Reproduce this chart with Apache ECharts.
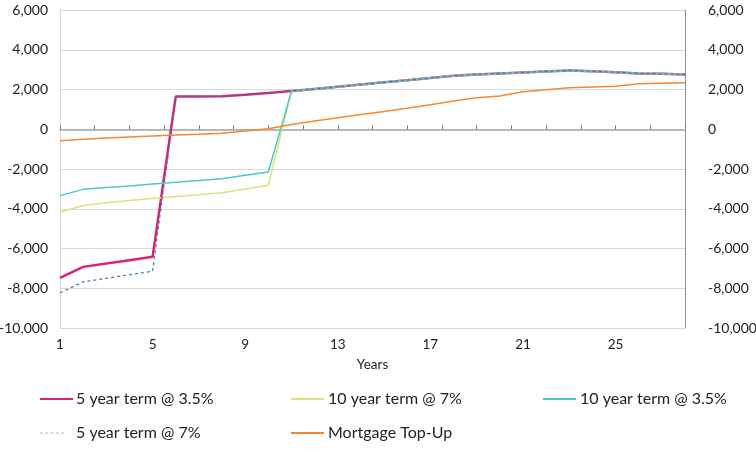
<!DOCTYPE html>
<html>
<head>
<meta charset="utf-8">
<script src="https://cdn.jsdelivr.net/npm/echarts@6/dist/echarts.min.js"></script>
<style>html,body{margin:0;padding:0;background:#fff}#c{width:756px;height:450px}</style>
</head>
<body>
<div id="c"></div>
<script>
const years = [1,2,3,4,5,6,7,8,9,10,11,12,13,14,15,16,17,18,19,20,21,22,23,24,25,26,27,28];
const common = [1920,2030,2140,2250,2360,2470,2580,2690,2760,2810,2860,2910,2960,2920,2870,2810,2790,2760]; // years 11-28
const fiveYr35 = [-7480,-6925,-6760,-6590,-6420,1650,1650,1660,1740,1830].concat(common);
const tenYr7 = [-4180,-3840,-3700,-3590,-3480,-3380,-3290,-3190,-3010,-2820].concat(common);
const tenYr35 = [-3340,-3025,-2930,-2850,-2760,-2670,-2580,-2490,-2320,-2150].concat(common);
const fiveYr7 = [-8230,-7680,-7500,-7320,-7145,1650,1650,1660,1740,1830].concat(common);
const topUp = [-580,-500,-440,-390,-340,-290,-250,-200,-90,20,240,420,580,740,895,1055,1230,1420,1580,1675,1890,1990,2090,2130,2160,2290,2320,2345];
const seriesNames = ['5 year term @ 3.5%','10 year term @ 7%','10 year term @ 3.5%','5 year term @ 7%','Mortgage Top-Up'];
const yTicks = {min:-10000, max:6000, interval:2000};

const font = 'Lato';
const fmt = v => v.toLocaleString('en-US');
const chart = echarts.init(document.getElementById('c'));
const solid = 'path://M0,0H33V2H0Z';
const dashed = 'path://M0,0H3V1H0ZM5,0H8V1H5ZM10,0H13V1H10ZM15,0H18V1H15ZM20,0H23V1H20Z';
const legendCfg = [
  {x:40,y:399,icon:solid,w:33,h:3,gap:3},
  {x:291,y:399,icon:solid,w:35,h:2,gap:3},
  {x:543,y:399,icon:solid,w:35,h:2,gap:3},
  {x:40,y:433,icon:dashed,w:24,h:2,gap:12},
  {x:291,y:433,icon:solid,w:35,h:2,gap:3}
];
chart.setOption({
  animation:false,
  grid:{left:60,right:71,top:10,bottom:122,containLabel:false,outerBoundsMode:'none'},
  legend: seriesNames.map((n,i)=>({
    data:[n], left:legendCfg[i].x, top:legendCfg[i].y-10, itemWidth:legendCfg[i].w, itemHeight:legendCfg[i].h,
    icon:legendCfg[i].icon, padding:0,
    textStyle:{fontFamily:font,fontSize:16,color:'#222',padding:[0,0,0,legendCfg[i].gap-5],lineHeight:20}
  })),
  xAxis:[
    {type:'category',data:years,boundaryGap:false,position:'bottom',
     axisLine:{show:false,onZero:false},axisTick:{show:false},
     axisLabel:{interval:3,fontFamily:font,fontSize:13.5,color:'#222',margin:10},
     name:'Years',nameLocation:'middle',nameGap:30,nameTextStyle:{fontFamily:font,fontSize:13.5,color:'#222'}},
    {type:'value',min:0,max:18,interval:1,position:'bottom',
     axisLine:{show:true,onZero:true,lineStyle:{color:'#a6a6a6',width:1.5}},
     axisTick:{show:true,length:4,inside:true,lineStyle:{color:'#777'}},
     axisLabel:{show:false},splitLine:{show:false}}
  ],
  yAxis:[
    {type:'value',min:yTicks.min,max:yTicks.max,interval:yTicks.interval,position:'left',
     axisLine:{show:true,lineStyle:{color:'#d9d9d9'}},axisTick:{show:false},
     splitLine:{lineStyle:{color:'#d9d9d9'}},
     axisLabel:{formatter:fmt,fontFamily:font,fontSize:14,color:'#222',margin:12}},
    {type:'value',min:yTicks.min,max:yTicks.max,interval:yTicks.interval,position:'right',
     axisLine:{show:true,lineStyle:{color:'#8c8c8c'}},axisTick:{show:false},
     splitLine:{show:false},
     axisLabel:{formatter:fmt,fontFamily:font,fontSize:14,color:'#222',margin:23}}
  ],
  series:[
    {name:seriesNames[0],type:'line',data:fiveYr35,symbol:'none',lineStyle:{color:'#d6247a',width:2.5},itemStyle:{color:'#d6247a'}},
    {name:seriesNames[1],type:'line',data:tenYr7,symbol:'none',lineStyle:{color:'#d5e57f',width:1.5},itemStyle:{color:'#d5e57f'}},
    {name:seriesNames[2],type:'line',data:tenYr35,symbol:'none',lineStyle:{color:'#4fc8c4',width:1.5},itemStyle:{color:'#4fc8c4'}},
    {name:seriesNames[3],type:'line',data:fiveYr7,symbol:'none',lineStyle:{color:'#44779c',width:1.2,type:[3,3]},itemStyle:{color:'#9dbdd0'}},
    {name:seriesNames[4],type:'line',data:topUp,symbol:'none',lineStyle:{color:'#f7862d',width:1.5},itemStyle:{color:'#f7862d'}}
  ]
});
</script>
</body>
</html>
